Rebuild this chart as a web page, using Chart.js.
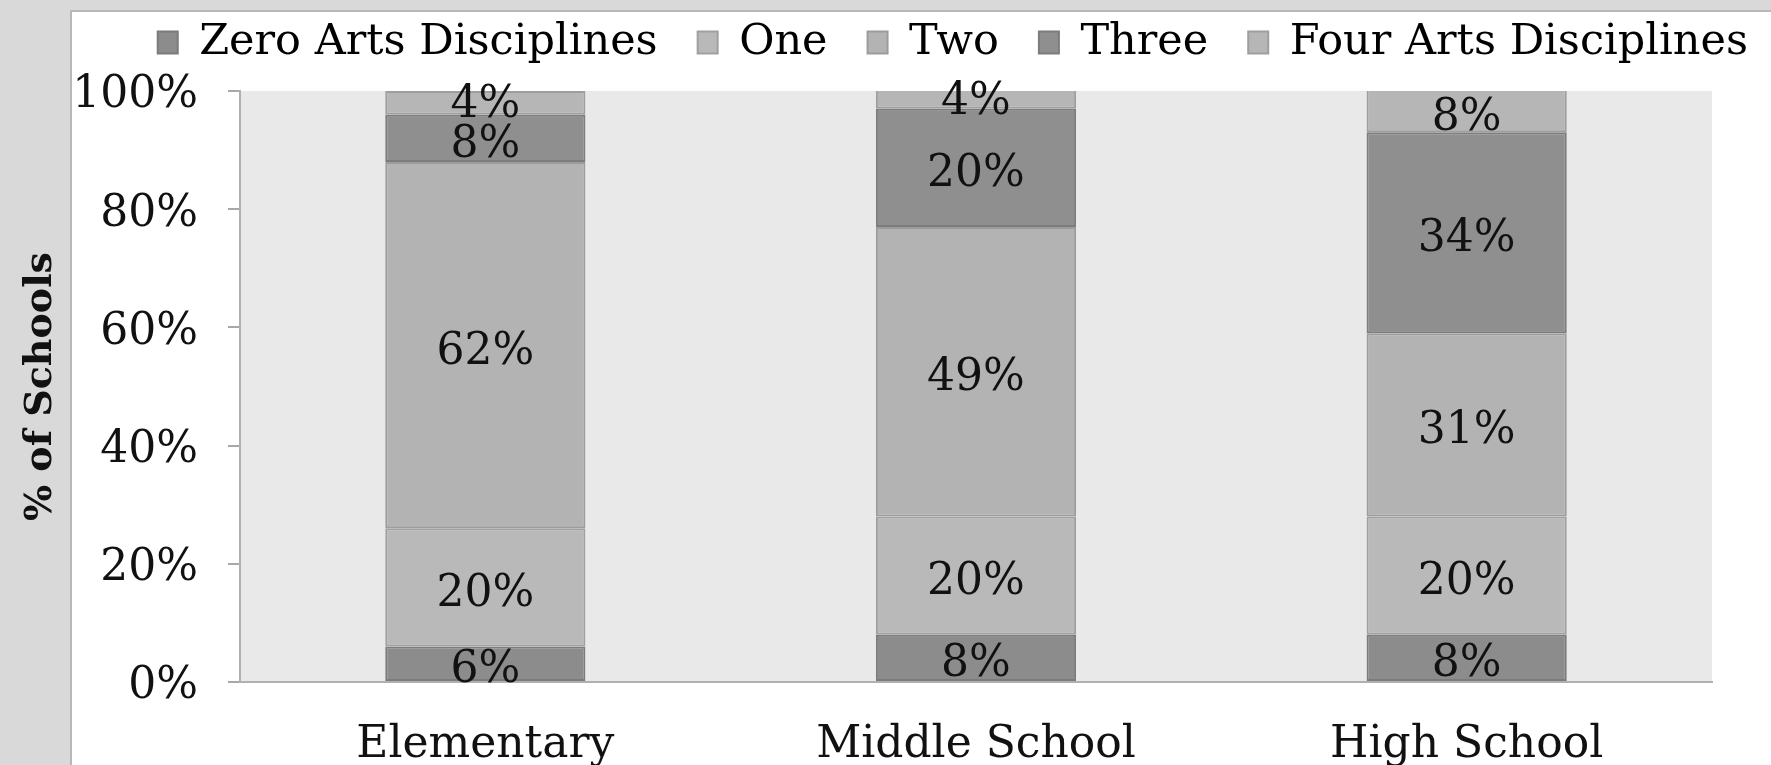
<!DOCTYPE html>
<html>
<head>
<meta charset="utf-8">
<script src="https://cdn.jsdelivr.net/npm/chart.js@4"></script>
<style>
    html, body { margin: 0; padding: 0; background: #ffffff; }
    #wrap { width: 1771px; height: 765px; position: relative; }
</style>
</head>
<body>
<div id="wrap"><canvas id="myChart"></canvas></div>
<script>
// Chart values
const categories = ['Elementary', 'Middle School', 'High School']
const seriesNames = ['Zero Arts Disciplines', 'One', 'Two', 'Three', 'Four Arts Disciplines']
const zeroArts = [6, 8, 8]
const oneArt = [20, 20, 20]
const twoArts = [62, 49, 31]
const threeArts = [8, 20, 34]
const fourArts = [4, 4, 8]
const yTickValues = [0, 20, 40, 60, 80, 100]

const fills = ['#8c8c8c', '#b9b9b9', '#b3b3b3', '#8f8f8f', '#b6b6b6']
const edges = ['#7b7b7b', '#a0a0a0', '#9c9c9c', '#7c7c7c', '#9e9e9e']
const serif = "'DejaVu Serif', Georgia, serif"

const seriesValues = [zeroArts, oneArt, twoArts, threeArts, fourArts]

// page frame + plot background
const backdrop = {
    id: 'backdrop',
    beforeDraw(chart) {
        const ctx = chart.ctx
        const a = chart.chartArea
        ctx.save()
        ctx.fillStyle = '#ffffff'
        ctx.fillRect(0, 0, chart.width, chart.height)
        ctx.fillStyle = '#d9d9d9'
        ctx.fillRect(0, 0, chart.width, 11)
        ctx.fillRect(0, 0, 70, chart.height)
        ctx.fillStyle = '#b8b8b8'
        ctx.fillRect(70, 11, 2, chart.height - 11)
        ctx.fillRect(70, 10, chart.width - 70, 2)
        ctx.fillStyle = '#e9e9e9'
        ctx.fillRect(a.left, a.top, a.right - a.left, a.bottom - a.top)
        ctx.restore()
    }
}

// value labels in the middle of each segment
const segmentLabels = {
    id: 'segmentLabels',
    afterDatasetsDraw(chart) {
        const ctx = chart.ctx
        const a = chart.chartArea
        ctx.save()
        ctx.font = `44px ${serif}`
        ctx.fillStyle = '#111111'
        ctx.textAlign = 'center'
        ctx.textBaseline = 'middle'
        chart.data.datasets.forEach((ds, i) => {
            const meta = chart.getDatasetMeta(i)
            meta.data.forEach((bar, j) => {
                const p = bar.getProps(['x', 'y', 'base'], true)
                const top = Math.max(Math.min(p.y, p.base), a.top)
                const bottom = Math.max(p.y, p.base)
                const shift = (bottom - top) > 30 ? 7 : 3
                ctx.fillText(`${ds.data[j]}%`, p.x, (top + bottom) / 2 + shift)
            })
        })
        ctx.restore()
    }
}

const canvas = document.getElementById('myChart')

var data = {
    labels: categories,
    datasets: seriesNames.map((name, i) => ({
        label: name,
        data: seriesValues[i],
        backgroundColor: fills[i],
        borderColor: edges[i],
        borderWidth: 2,
        borderSkipped: false,
        barPercentage: 0.408,
        categoryPercentage: 1
    }))
}

var options = {
    responsive: true,
    maintainAspectRatio: false,
    animation: false,
    devicePixelRatio: 1,
    layout: {
        padding: { top: -19, right: -17, bottom: 0, left: 0 }
    },
    plugins: {
        tooltip: { enabled: false },
        legend: {
            position: 'top',
            align: 'end',
            labels: {
                color: '#000000',
                font: { family: serif, size: 43 },
                boxWidth: 20,
                boxHeight: 22,
                padding: 40
            }
        }
    },
    scales: {
        x: {
            stacked: true,
            grid: { display: false },
            border: { display: true, color: '#b0b0b0', width: 2 },
            ticks: {
                color: '#111111',
                font: { family: serif, size: 44 },
                padding: 29
            },
            afterFit: (scale) => { scale.height = 83 }
        },
        y: {
            stacked: true,
            min: 0,
            max: 100,
            afterBuildTicks: (scale) => {
                scale.ticks = yTickValues.map(v => ({ value: v }))
            },
            grid: {
                display: true,
                drawOnChartArea: false,
                drawTicks: true,
                tickLength: 12,
                color: '#a8a8a8',
                lineWidth: 2
            },
            border: { display: true, color: '#b0b0b0', width: 2 },
            ticks: {
                color: '#111111',
                font: { family: serif, size: 44 },
                padding: 30,
                labelOffset: 5,
                callback: (v) => `${v}%`
            },
            title: {
                display: true,
                text: '% of Schools',
                color: '#111111',
                font: { family: serif, size: 38, weight: 'bold' },
                padding: { top: 18, bottom: 0 }
            },
            afterFit: (scale) => { scale.width = 240 }
        },
        // spacer axes to place the plot like the original
        xTop: {
            type: 'category',
            position: 'top',
            display: true,
            grid: { display: false },
            border: { display: false },
            ticks: { display: false },
            afterFit: (scale) => { scale.height = 17 }
        },
        yRight: {
            type: 'linear',
            position: 'right',
            display: true,
            grid: { display: false },
            border: { display: false },
            ticks: { display: false },
            afterFit: (scale) => { scale.width = 76 }
        }
    }
}

var config = {
    type: 'bar',
    data: data,
    options: options,
    plugins: [backdrop, segmentLabels]
}

var myChart = new Chart(canvas, config)
</script>
</body>
</html>
